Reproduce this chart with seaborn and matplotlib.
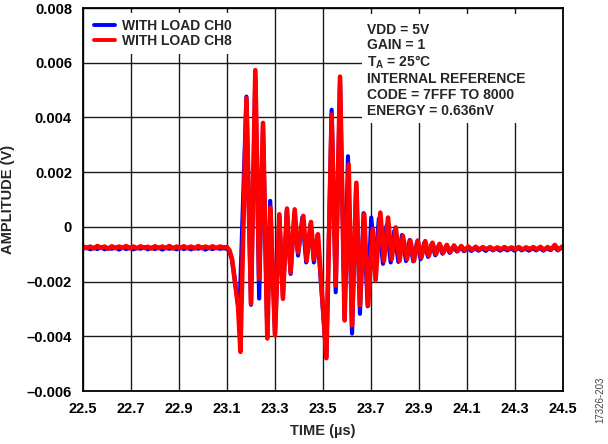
import numpy as np
import pandas as pd
import seaborn as sns
import matplotlib
matplotlib.use("Agg")
import matplotlib.pyplot as plt
from matplotlib.patches import Rectangle

# ---------------- data ----------------
series_names = ["WITH LOAD CH0", "WITH LOAD CH8"]
series_colors = ["#0000FF", "#FF0000"]

# quiet baseline before the glitch (sampling grid)
pre_t = np.round(np.arange(40) * 0.015 + 22.500, 3)
ch8_pre_v = [-0.00071, -0.00078, -0.00072, -0.00079, -0.00070, -0.00077, -0.00072, -0.00080, -0.00071, -0.00078,
             -0.00072, -0.00077, -0.00070, -0.00079, -0.00072, -0.00078, -0.00071, -0.00077, -0.00073, -0.00079,
             -0.00071, -0.00078, -0.00072, -0.00077, -0.00070, -0.00079, -0.00072, -0.00078, -0.00071, -0.00077,
             -0.00072, -0.00079, -0.00070, -0.00078, -0.00072, -0.00077, -0.00071, -0.00078, -0.00072, -0.00075]
ch0_pre_v = [-0.00080, -0.00075, -0.00082, -0.00076, -0.00081, -0.00074, -0.00082, -0.00077, -0.00080, -0.00075,
             -0.00083, -0.00076, -0.00081, -0.00075, -0.00082, -0.00077, -0.00080, -0.00074, -0.00082, -0.00076,
             -0.00081, -0.00075, -0.00083, -0.00077, -0.00080, -0.00076, -0.00082, -0.00075, -0.00081, -0.00077,
             -0.00082, -0.00076, -0.00080, -0.00075, -0.00083, -0.00077, -0.00081, -0.00076, -0.00080, -0.00078]

# glitch region (peaks / troughs)
ch8_glitch_t = [23.100, 23.110, 23.121, 23.135, 23.146, 23.156, 23.181, 23.200, 23.218, 23.234,
                23.250, 23.268, 23.281, 23.300, 23.318, 23.333, 23.350, 23.365, 23.382, 23.396,
                23.418, 23.432, 23.450, 23.462, 23.479, 23.514, 23.536, 23.553, 23.571, 23.590,
                23.607, 23.621, 23.639, 23.654, 23.672, 23.688, 23.707, 23.719, 23.739, 23.754,
                23.771, 23.786, 23.803, 23.819, 23.833, 23.850, 23.864, 23.879, 23.895, 23.910,
                23.926, 23.941, 23.956, 23.971, 23.986, 24.001, 24.016, 24.031]
ch8_glitch_v = [-0.00074, -0.00085, -0.00118, -0.00215, -0.00290, -0.00457, 0.00470, -0.00281, 0.00573, -0.00190,
                0.00380, -0.00408, 0.00070, -0.00396, 0.00046, -0.00263, 0.00067, -0.00166, 0.00064, -0.00093,
                0.00040, -0.00124, 0.00018, -0.00118, -0.00027, -0.00480, 0.00410, -0.00215, 0.00549, -0.00342,
                0.00228, -0.00360, 0.00161, -0.00287, 0.00046, -0.00287, -0.00008, -0.00196, 0.00052, -0.00124,
                0.00034, -0.00118, -0.00002, -0.00124, -0.00033, -0.00118, -0.00050, -0.00124, -0.00050, -0.00112,
                -0.00052, -0.00106, -0.00058, -0.00100, -0.00062, -0.00095, -0.00066, -0.00092]

ch0_glitch_t = [23.100, 23.110, 23.121, 23.135, 23.146, 23.152, 23.181, 23.200, 23.218, 23.234,
                23.250, 23.268, 23.280, 23.300, 23.318, 23.333, 23.349, 23.365, 23.381, 23.396,
                23.414, 23.430, 23.448, 23.462, 23.477, 23.514, 23.536, 23.553, 23.571, 23.590,
                23.604, 23.621, 23.638, 23.654, 23.669, 23.686, 23.701, 23.717, 23.733, 23.750,
                23.765, 23.782, 23.797, 23.814, 23.829, 23.846, 23.861, 23.876, 23.892, 23.907,
                23.922, 23.938, 23.953, 23.968, 23.983, 23.998, 24.013, 24.028]
ch0_glitch_v = [-0.00080, -0.00090, -0.00120, -0.00210, -0.00285, -0.00310, 0.00476, -0.00285, 0.00550, -0.00262,
                0.00370, -0.00400, 0.00095, -0.00390, 0.00040, -0.00255, 0.00060, -0.00172, 0.00050, -0.00105,
                0.00035, -0.00130, 0.00010, -0.00130, -0.00030, -0.00475, 0.00428, -0.00239, 0.00530, -0.00338,
                0.00258, -0.00390, 0.00155, -0.00318, 0.00050, -0.00290, 0.00034, -0.00135, 0.00030, -0.00135,
                0.00005, -0.00130, -0.00015, -0.00128, -0.00030, -0.00125, -0.00048, -0.00126, -0.00055, -0.00118,
                -0.00058, -0.00110, -0.00062, -0.00104, -0.00066, -0.00098, -0.00070, -0.00095]

# settled baseline after the glitch (sampling grids)
ch8_post_t = np.round(np.arange(31) * 0.015 + 24.046, 3)
ch0_post_t = np.round(np.arange(31) * 0.015 + 24.043, 3)
ch8_post_v = [-0.00068, -0.00088, -0.00070, -0.00086, -0.00072, -0.00084, -0.00073, -0.00083, -0.00074, -0.00082,
              -0.00074, -0.00083, -0.00075, -0.00082, -0.00074, -0.00081, -0.00075, -0.00082, -0.00074, -0.00083,
              -0.00075, -0.00081, -0.00074, -0.00082, -0.00073, -0.00084, -0.00074, -0.00082, -0.00066, -0.00084,
              -0.00072]
ch0_post_v = [-0.00074, -0.00090, -0.00075, -0.00089, -0.00077, -0.00088, -0.00078, -0.00087, -0.00078, -0.00088,
              -0.00077, -0.00086, -0.00078, -0.00087, -0.00079, -0.00086, -0.00078, -0.00087, -0.00077, -0.00086,
              -0.00079, -0.00087, -0.00078, -0.00086, -0.00077, -0.00087, -0.00078, -0.00085, -0.00072, -0.00086,
              -0.00076]

x_ticks = [22.5, 22.7, 22.9, 23.1, 23.3, 23.5, 23.7, 23.9, 24.1, 24.3, 24.5]
x_ticklabels = ["22.5", "22.7", "22.9", "23.1", "23.3", "23.5", "23.7", "23.9", "24.1", "24.3", "24.5"]
y_ticks = [-0.006, -0.004, -0.002, 0.0, 0.002, 0.004, 0.006, 0.008]
y_ticklabels = ["\u20130.006", "\u20130.004", "\u20130.002", "0", "0.002", "0.004", "0.006", "0.008"]

note_lines = ["VDD = 5V", "GAIN = 1", r"$\mathbf{T_A}$ = 25°C",
              "INTERNAL REFERENCE", "CODE = 7FFF TO 8000", "ENERGY = 0.636nV"]

# ---------------- build table ----------------
ch0_t = list(pre_t) + ch0_glitch_t + list(ch0_post_t)
ch0_v = ch0_pre_v + ch0_glitch_v + ch0_post_v
ch8_t = list(pre_t) + ch8_glitch_t + list(ch8_post_t)
ch8_v = ch8_pre_v + ch8_glitch_v + ch8_post_v
df = pd.DataFrame({
    "t": ch0_t + ch8_t,
    "v": ch0_v + ch8_v,
    "series": [series_names[0]] * len(ch0_t) + [series_names[1]] * len(ch8_t),
})

# ---------------- style ----------------
sns.set_theme(style="white")
plt.rcParams["font.family"] = ["Liberation Sans", "DejaVu Sans"]
plt.rcParams["font.weight"] = "bold"
plt.rcParams["mathtext.fontset"] = "custom"
plt.rcParams["mathtext.bf"] = "Liberation Sans:bold"
plt.rcParams["mathtext.rm"] = "Liberation Sans:bold"

fig = plt.figure(figsize=(6.08, 4.44), dpi=100)
ax = fig.add_axes([83 / 608, 53 / 444, 480 / 608, 383 / 444])

sns.lineplot(data=df, x="t", y="v", hue="series", hue_order=series_names,
             palette=dict(zip(series_names, series_colors)),
             estimator=None, sort=False, linewidth=3.0, ax=ax, zorder=3)
for ln, w in zip(ax.lines, [3.0, 3.3]):
    ln.set_solid_joinstyle("round")
    ln.set_linewidth(w)

ax.set_xlim(22.5, 24.5)
ax.set_ylim(-0.006, 0.008)
ax.set_xticks(x_ticks)
ax.set_xticklabels(x_ticklabels, fontsize=10.5, fontweight="bold")
ax.set_yticks(y_ticks)
ax.set_yticklabels(y_ticklabels, fontsize=10.5, fontweight="bold")
ax.tick_params(axis="both", length=0, pad=8, colors="black")
ax.set_axisbelow(True)
ax.grid(True, color="#1a1a1a", linewidth=1.0)
for sp in ax.spines.values():
    sp.set_color("black")
    sp.set_linewidth(1.3)
    sp.set_zorder(6)

ax.set_xlabel("TIME (µs)", fontsize=10.5, fontweight="bold", labelpad=6)
ax.set_ylabel("AMPLITUDE (V)", fontsize=10.5, fontweight="bold", labelpad=8)

# legend
handles, labels = ax.get_legend_handles_labels()
leg = ax.legend(handles, labels, loc="upper left", bbox_to_anchor=(0.0, 1.0),
                frameon=True, facecolor="white", edgecolor="none", framealpha=1.0,
                fancybox=False, prop={"weight": "bold", "size": 10},
                handlelength=1.5, handletextpad=0.5, labelspacing=0.05,
                borderpad=0.45, borderaxespad=0.35)
leg.set_zorder(7)
for lh in leg.get_lines():
    lh.set_linewidth(2.8)

# annotation box
def ax_xy(px, py):
    return ((px - 83) / 480, (391 - py) / 383)

x0, y0 = ax_xy(362, 123)
x1, y1 = ax_xy(563, 14)
ax.add_patch(Rectangle((x0, y0), x1 - x0, y1 - y0, transform=ax.transAxes,
                       facecolor="white", edgecolor="none", zorder=2))
line_centers = [28, 43.5, 60, 77.5, 93.5, 109.5]
for txt, cy in zip(note_lines, line_centers):
    tx, ty = ax_xy(367, cy)
    ax.text(tx, ty, txt, transform=ax.transAxes, ha="left", va="center_baseline",
            fontsize=10, fontweight="bold", zorder=8)

fig.text(600 / 608, 1 - 400 / 444, "17326-203", rotation=90, ha="center", va="center",
         fontsize=7, fontweight="normal", color="#444444")

fig.savefig("out.png", dpi=100)
